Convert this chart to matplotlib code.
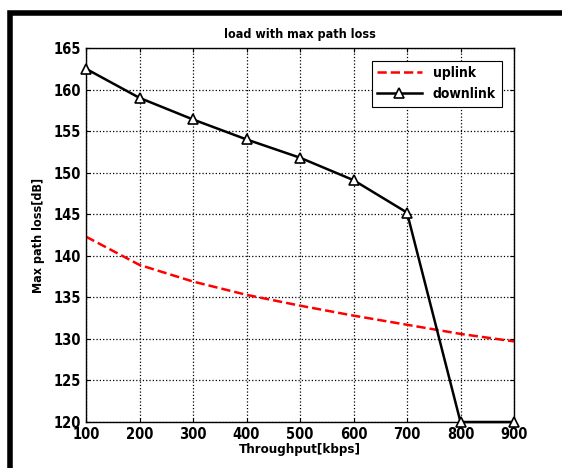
import matplotlib
matplotlib.use("Agg")
import matplotlib.pyplot as plt
from matplotlib.patches import Rectangle

plt.rcParams['font.family'] = ['DejaVu Sans']
plt.rcParams['font.stretch'] = 'condensed'
plt.rcParams['font.weight'] = 'bold'

throughput = [100, 200, 300, 400, 500, 600, 700, 800, 900]
uplink = [142.3, 138.9, 136.9, 135.3, 134.0, 132.8, 131.7, 130.6, 129.7]
downlink = [162.5, 159.0, 156.4, 154.0, 151.8, 149.1, 145.2, 120.0, 120.0]

fig = plt.figure(figsize=(5.62, 4.68), dpi=100)
ax = fig.add_axes([86 / 562, 1 - 422 / 468, 428 / 562, 374 / 468])

# thick black frame around the figure (right/bottom run off the image)
fig.patches.append(Rectangle((10 / 562, -0.1), 1.2, 1 - 12.5 / 468 + 0.1,
                             transform=fig.transFigure, fill=False,
                             edgecolor='black', linewidth=4, clip_on=False))

ax.plot(throughput, uplink, color='red', linestyle='--', linewidth=1.8, label='uplink')
ax.plot(throughput, downlink, color='black', linewidth=1.8, marker='^',
        markersize=7, markerfacecolor='white', markeredgewidth=1.2,
        label='downlink', clip_on=False, zorder=5)

ax.set_xlim(100, 900)
ax.set_ylim(120, 165)
ax.set_xticks(throughput)
ax.set_yticks(range(120, 166, 5))
ax.grid(True, color='black', linestyle=':', linewidth=0.9)
ax.tick_params(direction='in', top=True, right=True, length=3, labelsize=10.5)
for s in ax.spines.values():
    s.set_linewidth(1.0)

ax.set_title('load with max path loss', fontsize=9, fontweight='bold', pad=7)
ax.set_xlabel('Throughput[kbps]', fontsize=9.5, fontweight='bold', labelpad=1)
ax.set_ylabel('Max path loss[dB]', fontsize=9, fontweight='bold', labelpad=6)

leg = ax.legend(loc='upper right', fontsize=10, fancybox=False, edgecolor='black',
                framealpha=1, handlelength=3.2, borderaxespad=0.9)
leg.get_frame().set_linewidth(0.8)

fig.savefig('out.png', dpi=100)
